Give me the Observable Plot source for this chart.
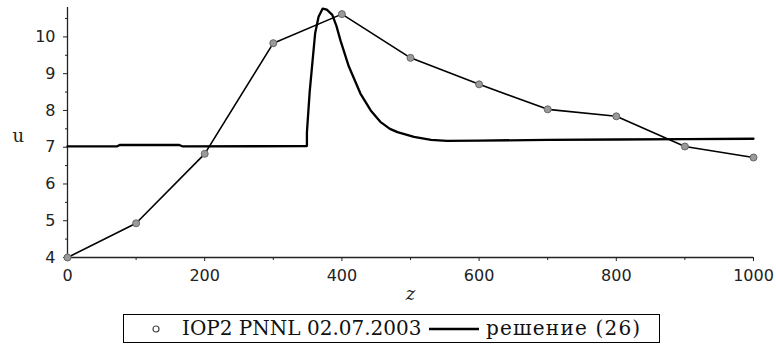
<!DOCTYPE html>
<html>
<head>
<meta charset="utf-8">
<script src="https://cdn.jsdelivr.net/npm/d3@7"></script>
<script src="https://cdn.jsdelivr.net/npm/@observablehq/plot@0.6"></script>
<style>
  html, body { margin: 0; padding: 0; background: #fff; }
  #chart { position: relative; width: 776px; height: 347px; }
  #legend {
    position: absolute; left: 123px; top: 314px; width: 537px; height: 29px;
    border: 1px solid #000; box-sizing: border-box;
    font-family: "DejaVu Serif", serif; font-size: 20px; color: #111;
  }
  #legend span { position: absolute; top: 1px; white-space: nowrap; }
</style>
</head>
<body>
<div id="chart"></div>
<script>
// Observations (IOP2 PNNL 02.07.2003)
const zObs = [0, 100, 200, 300, 400, 500, 600, 700, 800, 900, 1000];
const uObs = [4.0, 4.93, 6.82, 9.83, 10.62, 9.43, 8.71, 8.03, 7.84, 7.02, 6.72];

// Solution (26)
const zSol = [0, 72, 76, 163, 168, 349, 349, 353, 357, 361, 366, 372, 378, 386, 392, 398, 410, 427, 442, 456, 470, 481, 505, 530, 553, 600, 700, 800, 900, 1000];
const uSol = [7.02, 7.02, 7.06, 7.06, 7.02, 7.03, 7.4, 8.5, 9.3, 10.1, 10.55, 10.77, 10.74, 10.6, 10.3, 9.9, 9.2, 8.46, 8.0, 7.69, 7.5, 7.41, 7.28, 7.2, 7.17, 7.18, 7.2, 7.21, 7.22, 7.23];

const xTicks = [0, 200, 400, 600, 800, 1000];
const xMinor = [100, 300, 500, 700, 900];
const yTicks = [4, 5, 6, 7, 8, 9, 10];
const yMinor = [4.5, 5.5, 6.5, 7.5, 8.5, 9.5, 10.5];

const obs = zObs.map((z, i) => ({z, u: uObs[i]}));
const sol = zSol.map((z, i) => ({z, u: uSol[i]}));

const plot = Plot.plot({
  width: 776,
  height: 308,
  marginLeft: 67,
  marginRight: 23,
  marginTop: 7,
  marginBottom: 51,
  style: {fontFamily: "DejaVu Sans, sans-serif", fontSize: "16px", color: "#222", background: "#fff"},
  x: {domain: [0, 1000]},
  y: {domain: [4, 10.8]},
  marks: [
    Plot.axisX({ticks: xTicks, tickSize: 4, tickPadding: 8, tickFormat: d => String(d), label: null, fontSize: 16}),
    Plot.axisX({ticks: xMinor, tickSize: 3, tickFormat: () => "", label: null}),
    Plot.axisY({ticks: yTicks, tickSize: 4, tickPadding: 8, tickFormat: d => String(d), label: null, fontSize: 16}),
    Plot.axisY({ticks: yMinor, tickSize: 2, tickFormat: () => "", label: null}),
    Plot.ruleX([0], {y1: 4, y2: 10.8, stroke: "#222", strokeWidth: 1.3}),
    Plot.ruleY([4], {x1: 0, x2: 1000, stroke: "#222", strokeWidth: 1.3}),
    Plot.text(["u"], {frameAnchor: "left", dx: -55, dy: 4, fontFamily: "DejaVu Serif, serif", fontSize: 18}),
    Plot.text(["z"], {frameAnchor: "bottom", dy: 42, fontFamily: "DejaVu Serif, serif", fontSize: 18, fontStyle: "italic"}),
    Plot.line(sol, {x: "z", y: "u", stroke: "#000", strokeWidth: 2.3}),
    Plot.line(obs, {x: "z", y: "u", stroke: "#000", strokeWidth: 1.6}),
    Plot.dot(obs, {x: "z", y: "u", r: 3.5, fill: "#9a9a9a", stroke: "#666", strokeWidth: 1})
  ]
});
document.getElementById("chart").appendChild(plot);

const legend = document.createElement("div");
legend.id = "legend";
legend.innerHTML = `
  <svg width="20" height="20" style="position:absolute;left:22px;top:4px"><circle cx="10" cy="10" r="3" fill="none" stroke="#444" stroke-width="1.2"/></svg>
  <span style="left:58px">IOP2 PNNL 02.07.2003</span>
  <svg width="52" height="20" style="position:absolute;left:305px;top:4px"><line x1="0" y1="10" x2="50" y2="10" stroke="#000" stroke-width="2.6"/></svg>
  <span style="left:362px;letter-spacing:1.2px">решение (26)</span>`;
document.getElementById("chart").appendChild(legend);
</script>
</body>
</html>
